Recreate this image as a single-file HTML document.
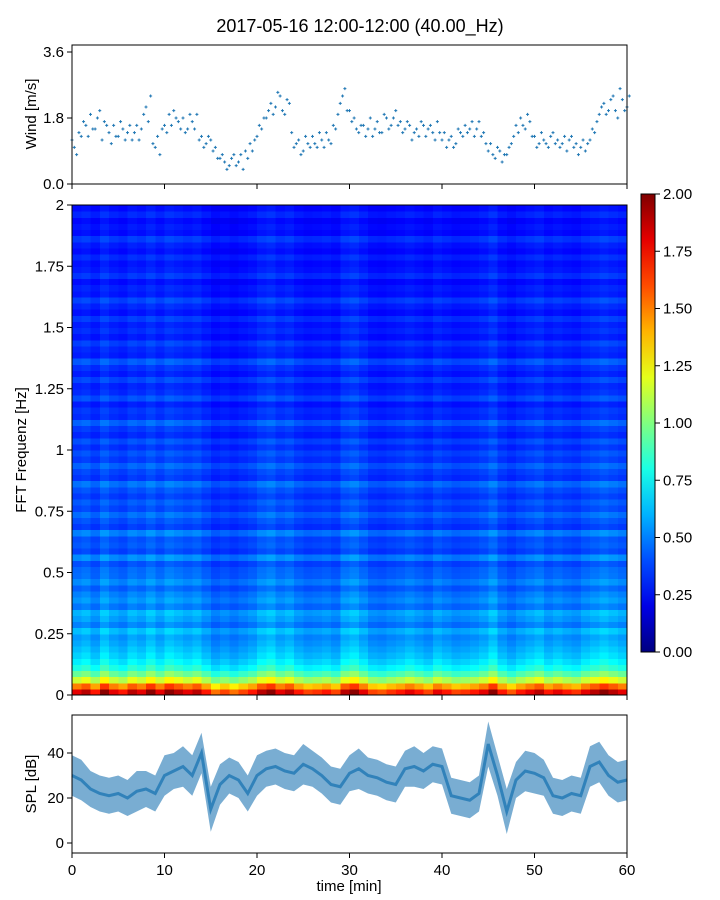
<!DOCTYPE html>
<html><head><meta charset="utf-8">
<style>
html,body{margin:0;padding:0;background:#fff;}
svg{display:block;font-family:"Liberation Sans","DejaVu Sans",sans-serif;}
</style></head>
<body>
<svg id="fig" width="720" height="900" xmlns="http://www.w3.org/2000/svg">
<text x="360" y="32" text-anchor="middle" font-size="18" fill="#000">2017-05-16 12:00-12:00 (40.00_Hz)</text>
<g id="wind"></g>
<g id="spec"></g>
<g id="cbar"></g>
<g id="spl"></g>
</svg>
<script>
// ---- data ----
const windValues = [1.2,0.8,1.3,1.6,1.9,1.5,2.0,1.7,1.4,1.6,1.3,1.5,1.4,1.2,1.6,1.5,2.1,2.4,1.0,0.8,
1.6,1.9,2.0,1.7,1.8,1.5,1.7,1.9,1.3,1.1,1.2,1.0,0.7,0.6,0.5,0.8,0.6,0.4,0.7,0.9,
1.3,1.5,1.8,2.2,2.1,2.4,1.9,2.2,1.0,1.2,0.9,1.1,1.3,1.0,1.2,1.4,1.1,1.5,2.2,2.6,
2.0,1.8,1.4,1.6,1.5,1.3,1.7,1.4,1.8,1.6,2.0,1.7,1.5,1.6,1.4,1.3,1.6,1.5,1.4,1.7,
1.2,1.0,1.3,1.1,1.4,1.6,1.5,1.3,1.7,1.4,0.9,0.8,1.0,0.6,0.8,1.1,1.6,1.8,1.5,1.7,
1.3,1.1,1.2,1.0,1.4,1.2,1.1,0.9,1.3,1.1,1.0,0.9,1.2,1.4,1.9,2.2,2.0,2.4,1.8,2.3,2.1];
const windValues2 = [1.0,1.4,1.7,1.3,1.5,1.8,1.2,1.6,1.1,1.3,1.7,1.2,1.6,1.4,1.2,1.9,1.7,1.1,1.3,1.5,
1.4,1.6,1.8,1.5,1.4,1.9,1.5,1.2,1.0,1.3,0.9,0.7,0.8,0.4,0.7,0.5,0.8,0.9,1.1,1.2,
1.6,1.8,2.0,1.9,2.5,2.0,2.3,1.4,1.1,0.8,1.3,1.0,1.1,1.4,1.0,1.2,1.6,1.9,2.4,2.0,
1.7,1.5,1.6,1.3,1.8,1.5,1.4,1.9,1.5,1.8,1.6,1.4,1.7,1.2,1.5,1.7,1.3,1.6,1.2,1.4,
1.4,1.2,1.0,1.5,1.3,1.4,1.7,1.5,1.3,1.1,1.1,0.7,0.9,0.8,1.0,1.3,1.4,1.6,1.9,1.3,
1.0,1.4,1.1,1.3,1.1,1.0,1.3,1.2,1.0,0.8,1.2,1.1,1.5,1.7,2.1,1.9,2.3,2.0,2.6,2.0,2.4];
const splValues = [30,28,24,22,21,22,20,23,24,22,30,32,34,30,40,15,26,30,28,22,
30,33,34,32,31,35,33,30,26,25,31,33,30,29,27,26,33,34,32,35,
34,21,20,19,22,44,30,14,28,32,31,29,21,20,22,21,34,36,30,27,28];
const splSpread = [9,9,8,8,8,8,8,9,8,8,9,8,9,9,9,10,9,8,8,8,
9,8,8,8,8,9,8,8,8,8,8,9,8,8,8,8,8,9,8,8,
8,8,8,8,8,10,9,10,8,9,9,8,8,8,8,8,9,9,9,9,9];
const freqProfile = [1.8,1.5,1.15,0.95,0.8,0.72,0.66,0.62,0.58,0.55,0.62,0.5,0.56,0.6,0.48,0.54,0.5,0.44,0.52,0.46,
0.45,0.4,0.52,0.38,0.42,0.4,0.5,0.36,0.4,0.46,0.38,0.42,0.36,0.4,0.47,0.35,0.38,0.44,0.36,0.4,
0.34,0.4,0.32,0.36,0.44,0.33,0.35,0.3,0.4,0.33,0.31,0.38,0.3,0.34,0.42,0.3,0.32,0.37,0.29,0.33,
0.3,0.36,0.28,0.32,0.38,0.29,0.31,0.27,0.35,0.3,0.28,0.33,0.27,0.3,0.36,0.27,0.29,0.26,0.32,0.27];
const timeFactor = [1.0,1.05,0.95,1.1,1.0,0.95,1.05,1.0,1.1,1.0,1.1,1.05,1.0,1.05,0.95,0.85,0.9,0.85,0.9,0.95,
1.05,1.1,1.0,1.05,0.95,0.9,0.92,0.95,0.9,1.05,1.1,1.0,0.9,0.88,0.92,0.95,1.0,0.95,0.9,1.0,
0.95,0.9,0.92,0.95,1.0,1.1,0.95,0.88,0.95,1.0,1.05,0.95,1.0,0.95,0.92,1.0,1.05,1.1,1.05,1.0];
const windTicks = [0.0,1.8,3.6];
const windTickLabels = ["0.0","1.8","3.6"];
const freqTicks = [0,0.25,0.5,0.75,1,1.25,1.5,1.75,2];
const freqTickLabels = ["0","0.25","0.5","0.75","1","1.25","1.5","1.75","2"];
const cbarTicks = [0,0.25,0.5,0.75,1,1.25,1.5,1.75,2];
const cbarTickLabels = ["0.00","0.25","0.50","0.75","1.00","1.25","1.50","1.75","2.00"];
const splTicks = [0,20,40];
const splTickLabels = ["0","20","40"];
const timeTicks = [0,10,20,30,40,50,60];
const timeTickLabels = ["0","10","20","30","40","50","60"];

// ---- helpers ----
const NS="http://www.w3.org/2000/svg";
function mk(parent,tag,attrs){const e=document.createElementNS(NS,tag);for(const k in attrs)e.setAttribute(k,attrs[k]);parent.appendChild(e);return e;}
const X0=72,X1=627;
const xT = t => X0 + t/60*(X1-X0);
const yWind = v => 184 - v*36.67;
const yFreq = f => 695 - f*245;
const ySpl = v => 843 - v*2.25;
const yCbar = v => 652 - v/2*458;
function jet(v){v=Math.max(0,Math.min(1,v));
 const r=Math.max(0,Math.min(1,1.5-Math.abs(4*v-3))),g=Math.max(0,Math.min(1,1.5-Math.abs(4*v-2))),b=Math.max(0,Math.min(1,1.5-Math.abs(4*v-1)));
 return `rgb(${Math.round(r*255)},${Math.round(g*255)},${Math.round(b*255)})`;}

function frame(g,y0,y1,name){
 const r=mk(g,'rect',{x:X0,y:y0,width:X1-X0,height:y1-y0,fill:'none',stroke:'#000','stroke-width':1});
 
 
}
function yTicks(g,ticks,labels,fy,name){
 ticks.forEach((t,i)=>{const y=fy(t);
  mk(g,'line',{x1:X0-5,x2:X0,y1:y,y2:y,stroke:'#000'});
  const tx=mk(g,'text',{x:X0-8,y:y+5,'text-anchor':'end','font-size':15});tx.textContent=labels[i];
  
  
 });
}
function xTicks(g,yb,withLabels){
 timeTicks.forEach((t,i)=>{const x=xT(t);
  mk(g,'line',{x1:x,x2:x,y1:yb,y2:yb+5,stroke:'#000'});
  if(withLabels){const tx=mk(g,'text',{x:x,y:yb+22,'text-anchor':'middle','font-size':15});tx.textContent=timeTickLabels[i];
   
   }
 });
}
function yLabel(g,text,cx,cy,name){
 const t=mk(g,'text',{x:0,y:0,transform:`translate(${cx},${cy}) rotate(-90)`,'text-anchor':'middle','font-size':15});t.textContent=text;
 
 
}

// ---- wind ----
const gw=document.getElementById('wind');
[windValues,windValues2].forEach((arr,k)=>arr.forEach((v,i)=>{const x=xT(i/2+k*0.25),y=yWind(v);
 const p=mk(gw,'path',{d:`M${x-1.5},${y}h3M${x},${y-1.5}v3`,stroke:'#1f77b4','stroke-width':1});
 
 
}));
frame(gw,45,184,'wind-axes');
yTicks(gw,windTicks,windTickLabels,yWind,'wind-y');
xTicks(gw,184,false);
yLabel(gw,'Wind [m/s]',36,114,'wind-y-axis-title');

// ---- spectrogram ----
const gs=document.getElementById('spec');
const nR=freqProfile.length,nC=timeFactor.length;
const cw=(X1-X0)/nC, rh=490/nR;
for(let r=0;r<nR;r++)for(let c=0;c<nC;c++){
 const v=freqProfile[r]*timeFactor[c];
 const cell=mk(gs,'rect',{x:(X0+c*cw).toFixed(2),y:(695-(r+1)*rh).toFixed(2),width:(cw+0.5).toFixed(2),height:(rh+0.5).toFixed(2),fill:jet(v/2),'shape-rendering':'crispEdges'});
 
 
}
frame(gs,205,695,'spectrogram-axes');
yTicks(gs,freqTicks,freqTickLabels,yFreq,'freq-y');
xTicks(gs,695,false);
yLabel(gs,'FFT Frequenz [Hz]',26,450,'freq-y-axis-title');

// ---- colorbar ----
const gc=document.getElementById('cbar');
const defs=mk(gc,'defs',{});
const lg=mk(defs,'linearGradient',{id:'jetg',x1:0,y1:1,x2:0,y2:0});
for(let i=0;i<=10;i++)mk(lg,'stop',{offset:i/10,'stop-color':jet(i/10)});
const cb=mk(gc,'rect',{x:641,y:194,width:14,height:458,fill:'url(#jetg)',stroke:'#000'});


cbarTicks.forEach((t,i)=>{const y=yCbar(t);
 mk(gc,'line',{x1:655,x2:660,y1:y,y2:y,stroke:'#000'});
 const tx=mk(gc,'text',{x:663,y:y+5,'font-size':15});tx.textContent=cbarTickLabels[i];
 
 
});

// ---- SPL ----
const gp=document.getElementById('spl');
const up=splValues.map((v,i)=>`${xT(i)},${ySpl(v+splSpread[i])}`);
const lo=splValues.map((v,i)=>`${xT(i)},${ySpl(v-splSpread[i])}`).reverse();
const band=mk(gp,'polygon',{points:up.concat(lo).join(' '),fill:'#1f77b4','fill-opacity':0.6});


const ln=mk(gp,'polyline',{points:splValues.map((v,i)=>`${xT(i)},${ySpl(v)}`).join(' '),fill:'none',stroke:'#1f77b4','stroke-width':3,'stroke-opacity':0.8});


frame(gp,715,853,'spl-axes');
yTicks(gp,splTicks,splTickLabels,ySpl,'spl-y');
xTicks(gp,853,true);
yLabel(gp,'SPL [dB]',36,784,'spl-y-axis-title');
const xl=mk(gp,'text',{x:349,y:891,'text-anchor':'middle','font-size':15});xl.textContent='time [min]';


</script>
</body></html>
